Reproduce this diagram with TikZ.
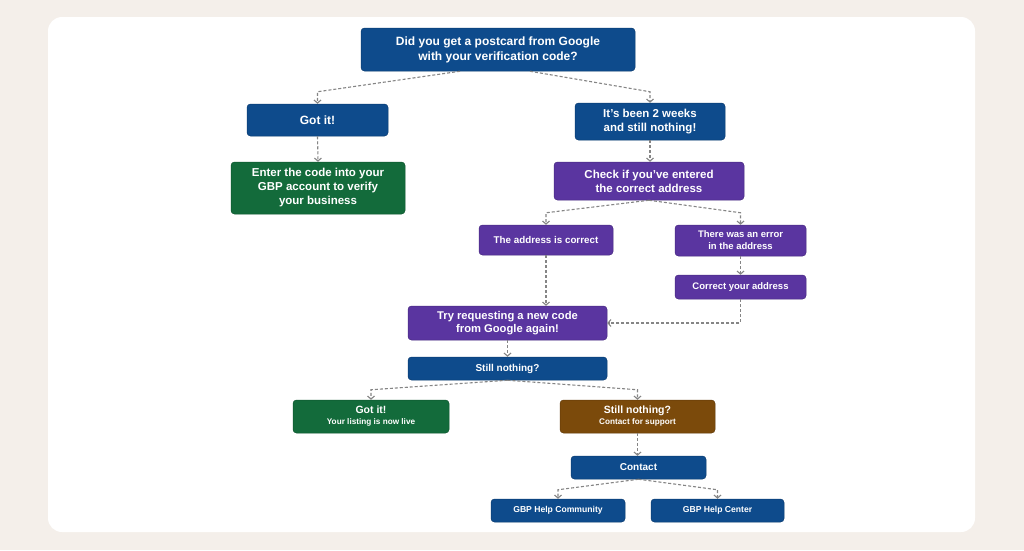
\documentclass[tikz,border=0pt]{standalone}
\usepackage{fontspec}
\setmainfont{Liberation Sans}
\usetikzlibrary{arrows.meta}

\definecolor{pageback}{HTML}{F4EFEA}
\definecolor{gbpblue}{HTML}{0E4B8C}
\definecolor{gbpgreen}{HTML}{136B3B}
\definecolor{gbppurple}{HTML}{5A35A0}
\definecolor{gbpbrown}{HTML}{7B4A0B}
\definecolor{linkgray}{HTML}{858585}

\tikzset{
  box/.style={rounded corners=3.5pt, fill=#1, draw=#1!80!black, line width=0.5pt,
    text=white, font=\bfseries, align=center, inner sep=0pt},
  link/.style={->, linkgray, line width=1.1pt, dash pattern=on 3pt off 2pt},
  >={Straight Barb[length=3pt,width=7pt]}
}

\begin{document}
\begin{tikzpicture}[x=1pt,y=-1pt]
    % Page and card
    \fill[pageback] (0,0) rectangle (1024,550);
    \fill[white, rounded corners=14pt] (48,17) rectangle (975,532);

    % Question
    \node[box=gbpblue, minimum width=274pt, minimum height=43pt, font=\bfseries\fontsize{12}{15}\selectfont] (q) at (498,49.5)
        {Did you get a postcard from Google\\with your verification code?};

    % First answers
    \node[box=gbpblue, minimum width=141pt, minimum height=32pt, font=\bfseries\fontsize{12}{15}\selectfont] (got) at (317.5,120) {Got it!};
    \node[box=gbpblue, minimum width=150pt, minimum height=37pt, font=\bfseries\fontsize{11.5}{14}\selectfont] (wait) at (650,121.5)
        {It's been 2 weeks\\and still nothing!};

    \node[box=gbpgreen, minimum width=174pt, minimum height=52pt, font=\bfseries\fontsize{11.5}{14}\selectfont] (enter) at (318,188)
        {Enter the code into your\\GBP account to verify\\your business};
    \node[box=gbppurple, minimum width=190pt, minimum height=38pt, font=\bfseries\fontsize{11.5}{14}\selectfont] (check) at (649,181)
        {Check if you've entered\\the correct address};

    % Address branch
    \node[box=gbppurple, minimum width=134pt, minimum height=30pt, font=\bfseries\fontsize{9.8}{12}\selectfont] (ok) at (546,240) {The address is correct};
    \node[box=gbppurple, minimum width=131pt, minimum height=31pt, font=\bfseries\fontsize{9.5}{12}\selectfont] (err) at (740.5,240.5)
        {There was an error\\in the address};
    \node[box=gbppurple, minimum width=131pt, minimum height=24pt, font=\bfseries\fontsize{9.5}{12}\selectfont] (fix) at (740.5,287) {Correct your address};

    \node[box=gbppurple, minimum width=199pt, minimum height=34pt, font=\bfseries\fontsize{11.2}{13.5}\selectfont] (try) at (507.5,323)
        {Try requesting a new code\\from Google again!};
    \node[box=gbpblue, minimum width=199pt, minimum height=23pt, font=\bfseries\fontsize{10}{12}\selectfont] (still) at (507.5,368.5) {Still nothing?};

    % Final outcomes
    \node[box=gbpgreen, minimum width=156pt, minimum height=33pt, font=\bfseries\fontsize{10.5}{12}\selectfont] (live) at (371,416.5)
        {Got it!\\[-1pt]{\fontsize{8.2}{10}\selectfont Your listing is now live}};
    \node[box=gbpbrown, minimum width=155pt, minimum height=33pt, font=\bfseries\fontsize{10.5}{12}\selectfont] (help) at (637.5,416.5)
        {Still nothing?\\[-1pt]{\fontsize{8.2}{10}\selectfont Contact for support}};

    \node[box=gbpblue, minimum width=135pt, minimum height=23pt, font=\bfseries\fontsize{10}{12}\selectfont] (contact) at (638.5,467.5) {Contact};
    \node[box=gbpblue, minimum width=134pt, minimum height=23pt, font=\bfseries\fontsize{8.6}{10}\selectfont] (community) at (558,510.5) {GBP Help Community};
    \node[box=gbpblue, minimum width=133pt, minimum height=23pt, font=\bfseries\fontsize{8.6}{10}\selectfont] (center) at (717.5,510.5) {GBP Help Center};

    % Connectors
    \draw[link] ([xshift=-38pt]q.south) -- ([yshift=12pt]got.north) -- (got.north);
    \draw[link] ([xshift=32pt]q.south) -- ([yshift=11pt]wait.north) -- (wait.north);
    \draw[link] (got.south) -- (enter.north);
    \draw[link] (wait.south) -- (wait.south |- check.north);

    \draw[link] (check.south) -- ([yshift=12pt]ok.north) -- (ok.north);
    \draw[link] (check.south) -- ([yshift=12pt]err.north) -- (err.north);
    \draw[link] (ok.south) -- (ok.south |- try.north);
    \draw[link] (err.south) -- (fix.north);
    \draw[link] (fix.south) |- (try.east);

    \draw[link] (try.south) -- (still.north);
    \draw[link] (still.south) -- ([yshift=10pt]live.north) -- (live.north);
    \draw[link] (still.south) -- ([yshift=10pt]help.north) -- (help.north);
    \draw[link] (help.south) -- (help.south |- contact.north);

    \draw[link] (contact.south) -- ([yshift=9pt]community.north) -- (community.north);
    \draw[link] (contact.south) -- ([yshift=9pt]center.north) -- (center.north);
\end{tikzpicture}
\end{document}
